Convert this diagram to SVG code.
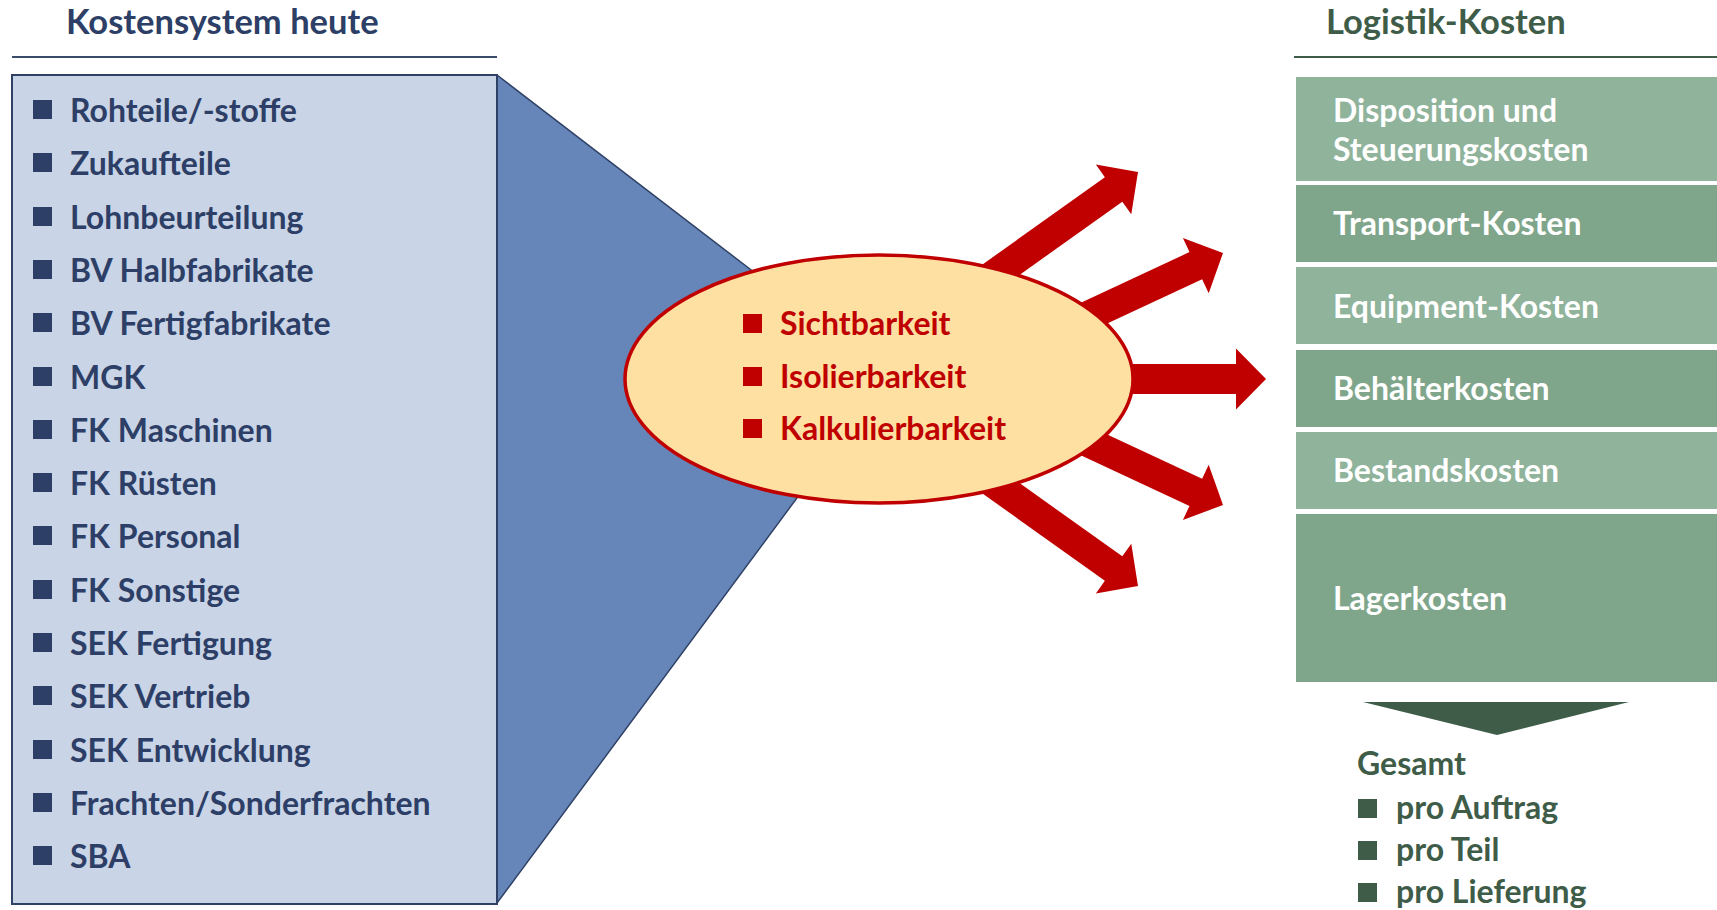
<svg xmlns="http://www.w3.org/2000/svg" xmlns:xlink="http://www.w3.org/1999/xlink" width="1717" height="910" viewBox="0 0 1717 910">
  <style>
    text { font-family: Lato, "Liberation Sans", sans-serif; font-weight: 700; }
    .navy { fill: #2d3f66; font-size: 32px; }
    .red { fill: #c00000; font-size: 32px; }
    .white { fill: #ffffff; font-size: 32px; }
    .green { fill: #3e5c48; font-size: 32px; }
    .title { font-size: 34.5px; }
    .bn { fill: #2d3f66; }
    .br { fill: #c00000; }
    .bg { fill: #3e5c48; }
    .light { fill: #8fb39b; }
    .dark { fill: #7fa68b; }
    .arrow { fill: #c00000; }
  </style>
  <defs>
    <!-- block arrow, tip at origin pointing along +x -->
    <path id="blockArrow" d="M-260,-15 H-30 V-30.5 L0,0 L-30,30.5 V15 H-260 Z"/>
  </defs>

  <rect width="1717" height="910" fill="#ffffff"/>

  <!-- left column: current cost system -->
  <g id="left-header">
    <text class="navy title" x="66" y="34">Kostensystem heute</text>
    <line x1="12" y1="57" x2="497" y2="57" stroke="#3b4b6a" stroke-width="2"/>
  </g>

  <g id="funnel">
    <polygon points="497,75 888,375 497,903" fill="#6685b8" stroke="#2f4266" stroke-width="1.5" stroke-linejoin="round"/>
  </g>

  <g id="cost-list">
    <rect x="12" y="75" width="485" height="829" fill="#c9d4e6" stroke="#2f4266" stroke-width="2"/>
    <rect class="bn" x="33" y="100" width="19" height="19"/><text class="navy" x="70" y="122">Rohteile/-stoffe</text>
    <rect class="bn" x="33" y="153" width="19" height="19"/><text class="navy" x="70" y="175">Zukaufteile</text>
    <rect class="bn" x="33" y="207" width="19" height="19"/><text class="navy" x="70" y="229">Lohnbeurteilung</text>
    <rect class="bn" x="33" y="260" width="19" height="19"/><text class="navy" x="70" y="282">BV Halbfabrikate</text>
    <rect class="bn" x="33" y="313" width="19" height="19"/><text class="navy" x="70" y="335">BV Fertigfabrikate</text>
    <rect class="bn" x="33" y="367" width="19" height="19"/><text class="navy" x="70" y="389">MGK</text>
    <rect class="bn" x="33" y="420" width="19" height="19"/><text class="navy" x="70" y="442">FK Maschinen</text>
    <rect class="bn" x="33" y="473" width="19" height="19"/><text class="navy" x="70" y="495">FK Rüsten</text>
    <rect class="bn" x="33" y="526" width="19" height="19"/><text class="navy" x="70" y="548">FK Personal</text>
    <rect class="bn" x="33" y="580" width="19" height="19"/><text class="navy" x="70" y="602">FK Sonstige</text>
    <rect class="bn" x="33" y="633" width="19" height="19"/><text class="navy" x="70" y="655">SEK Fertigung</text>
    <rect class="bn" x="33" y="686" width="19" height="19"/><text class="navy" x="70" y="708">SEK Vertrieb</text>
    <rect class="bn" x="33" y="740" width="19" height="19"/><text class="navy" x="70" y="762">SEK Entwicklung</text>
    <rect class="bn" x="33" y="793" width="19" height="19"/><text class="navy" x="70" y="815">Frachten/Sonderfrachten</text>
    <rect class="bn" x="33" y="846" width="19" height="19"/><text class="navy" x="70" y="868">SBA</text>
  </g>

  <!-- arrows radiating from the ellipse -->
  <g id="connectors">
    <use xlink:href="#blockArrow" class="arrow" transform="translate(1138,172) rotate(-35.5)"/>
    <use xlink:href="#blockArrow" class="arrow" transform="translate(1223,253) rotate(-25)"/>
    <use xlink:href="#blockArrow" class="arrow" transform="translate(1266,379)"/>
    <use xlink:href="#blockArrow" class="arrow" transform="translate(1223,505) rotate(25)"/>
    <use xlink:href="#blockArrow" class="arrow" transform="translate(1138,586) rotate(35.5)"/>
  </g>

  <g id="criteria">
    <ellipse cx="879" cy="379" rx="254" ry="124" fill="#fde0a2" stroke="#c00000" stroke-width="3.5"/>
    <rect class="br" x="743" y="314" width="19" height="19"/><text class="red" x="780" y="335">Sichtbarkeit</text>
    <rect class="br" x="743" y="367" width="19" height="19"/><text class="red" x="780" y="388">Isolierbarkeit</text>
    <rect class="br" x="743" y="419" width="19" height="19"/><text class="red" x="780" y="440">Kalkulierbarkeit</text>
  </g>

  <!-- right column: logistics costs -->
  <g id="right-header">
    <text class="green title" x="1326" y="34">Logistik-Kosten</text>
    <line x1="1294" y1="57" x2="1717" y2="57" stroke="#3e5c48" stroke-width="2"/>
  </g>

  <g id="logistics-costs">
    <rect class="light" x="1296" y="77" width="421" height="104"/>
    <text class="white" x="1333" y="122">Disposition und</text>
    <text class="white" x="1333" y="161">Steuerungskosten</text>
    <rect class="dark" x="1296" y="185" width="421" height="77"/>
    <text class="white" x="1333" y="235">Transport-Kosten</text>
    <rect class="light" x="1296" y="267" width="421" height="77"/>
    <text class="white" x="1333" y="318">Equipment-Kosten</text>
    <rect class="dark" x="1296" y="350" width="421" height="77"/>
    <text class="white" x="1333" y="400">Behälterkosten</text>
    <rect class="light" x="1296" y="432" width="421" height="77"/>
    <text class="white" x="1333" y="482">Bestandskosten</text>
    <rect class="dark" x="1296" y="514" width="421" height="168"/>
    <text class="white" x="1333" y="610">Lagerkosten</text>
  </g>

  <g id="total">
    <polygon points="1363,702 1629,702 1497,735" fill="#3e5c48"/>
    <text class="green" x="1357" y="775">Gesamt</text>
    <rect class="bg" x="1358" y="799" width="19" height="19"/><text class="green" x="1396" y="819">pro Auftrag</text>
    <rect class="bg" x="1358" y="841" width="19" height="19"/><text class="green" x="1396" y="861">pro Teil</text>
    <rect class="bg" x="1358" y="883" width="19" height="19"/><text class="green" x="1396" y="903">pro Lieferung</text>
  </g>
</svg>
